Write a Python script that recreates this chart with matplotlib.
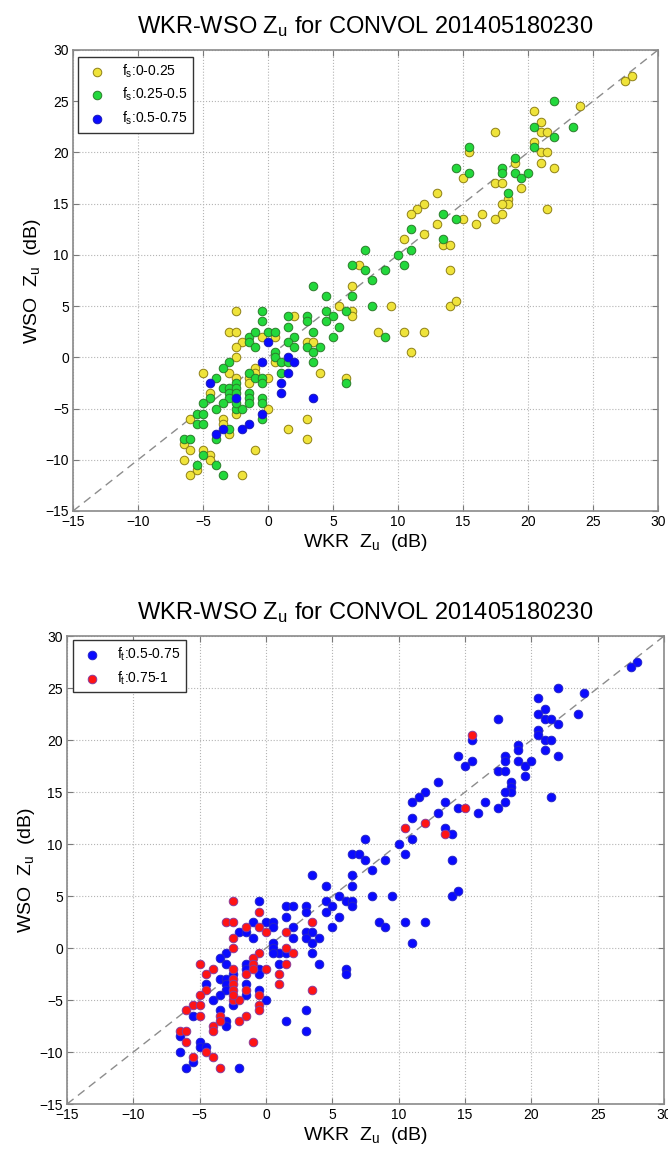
import matplotlib
matplotlib.use('Agg')
import matplotlib.pyplot as plt
import numpy as np

plt.rcParams['font.family'] = ['Liberation Sans', 'DejaVu Sans']
plt.rcParams['mathtext.fontset'] = 'custom'
plt.rcParams['mathtext.rm'] = 'Liberation Sans'
plt.rcParams['mathtext.it'] = 'Liberation Sans:italic'

# WKR / WSO reflectivity pairs (dB)
wkr = [28.0, 27.5, 24.0, 22.0, 20.5, 21.0, 20.5, 21.0, 21.5, 22.0,
       23.5, 20.5, 20.5, 21.0, 21.5, 21.0, 22.0, 21.5, 17.5, 15.5,
       15.5, 14.5, 15.5, 15.0, 19.0, 19.0, 18.0, 18.0, 19.0, 19.5,
       20.0, 19.5, 17.5, 18.0, 18.5, 18.5, 18.5, 18.0, 18.0, 17.5,
       16.5, 16.0, 13.0, 12.0, 11.5, 11.0, 13.5, 14.5, 15.0, 13.0,
       12.0, 11.0, 10.5, 11.0, 10.0, 10.5, 13.5, 13.5, 14.0, 14.0,
       7.5, 6.5, 7.0, 7.5, 9.0, 8.0, 6.5, 3.5, 4.5, 6.5,
       5.5, 8.0, 9.5, 14.0, 14.5, 4.5, 5.0, 6.0, 6.5, 6.5,
       4.5, 5.5, 5.0, 8.5, 9.0, 10.5, 12.0, 11.0, 6.0, 6.0,
       3.0, 3.0, 3.5, 3.0, 3.5, 3.0, 4.0, 3.5, 3.5, 4.0,
       3.5, 3.0, 3.0, 1.5, 1.5, 2.0, 1.5, 2.0, 1.5, 2.0,
       -0.5, -2.5, -0.5, -3.0, -2.5, -1.5, -1.0, -0.5, 0.0, 0.5,
       0.5, -2.0, -1.5, -2.5, -1.0, 0.0, 0.5, 0.5, 1.0, 0.5,
       1.5, 2.0, 1.5, 1.5, 1.0, 1.0, 0.0, -0.5, -1.0, -1.5,
       -1.0, -1.0, -1.5, -0.5, -0.5, -1.5, -2.5, -3.0, -3.5, -3.0,
       -2.5, -4.0, -5.0, -4.5, -3.5, -3.0, -2.5, -2.5, -4.5, -4.5,
       -3.0, -2.5, -1.5, -1.5, -1.5, -2.5, -3.0, -3.5, -4.0, -5.0,
       -5.5, -5.0, -5.5, -5.0, -6.0, -2.5, -2.0, -2.5, -3.5, -3.5,
       -3.0, -3.0, -3.5, -4.0, -4.0, -2.0, -1.5, -0.5, -0.5, -0.5,
       -0.5, 0.0, -1.0, -6.5, -6.0, -6.5, -6.0, -5.0, -5.0, -4.5,
       -4.5, -6.5, -4.0, -5.5, -5.5, -6.0, -3.5, -2.0, 1.0, -2.5]

wso = [27.5, 27.0, 24.5, 25.0, 24.0, 23.0, 22.5, 22.0, 22.0, 21.5,
       22.5, 21.0, 20.5, 20.0, 20.0, 19.0, 18.5, 14.5, 22.0, 20.5,
       20.0, 18.5, 18.0, 17.5, 19.5, 19.0, 18.5, 18.0, 18.0, 17.5,
       18.0, 16.5, 17.0, 17.0, 16.0, 15.5, 15.0, 15.0, 14.0, 13.5,
       14.0, 13.0, 16.0, 15.0, 14.5, 14.0, 14.0, 13.5, 13.5, 13.0,
       12.0, 12.5, 11.5, 10.5, 10.0, 9.0, 11.5, 11.0, 11.0, 8.5,
       10.5, 9.0, 9.0, 8.5, 8.5, 7.5, 7.0, 7.0, 6.0, 6.0,
       5.0, 5.0, 5.0, 5.0, 5.5, 4.5, 4.0, 4.5, 4.5, 4.0,
       3.5, 3.0, 2.0, 2.5, 2.0, 2.5, 2.5, 0.5, -2.0, -2.5,
       4.0, 3.5, 2.5, 1.5, 1.5, 1.0, 1.0, 0.5, -0.5, -1.5,
       -4.0, -6.0, -8.0, -7.0, 4.0, 4.0, 3.0, 2.0, 1.5, 1.0,
       4.5, 4.5, 3.5, 2.5, 2.5, 2.0, 2.5, 2.0, 2.5, 2.5,
       2.0, 1.5, 1.5, 1.0, 1.0, 1.5, 0.5, 0.0, -0.5, -0.5,
       0.0, -0.5, -0.5, -1.5, -2.5, -3.5, -2.0, -0.5, -1.0, -1.5,
       -1.5, -2.0, -2.0, -2.0, -2.5, -2.5, 0.0, -0.5, -1.0, -1.5,
       -2.0, -2.0, -1.5, -2.5, -3.0, -3.0, -2.5, -3.0, -3.5, -4.0,
       -3.5, -3.5, -3.5, -4.0, -4.5, -4.0, -4.0, -4.5, -5.0, -4.5,
       -5.5, -5.5, -6.5, -6.5, -6.0, -5.0, -5.0, -5.5, -6.0, -6.5,
       -7.0, -7.5, -7.0, -7.5, -8.0, -7.0, -6.5, -5.5, -4.0, -4.5,
       -6.0, -5.0, -9.0, -8.0, -8.0, -8.5, -9.0, -9.0, -9.5, -9.5,
       -10.0, -10.0, -10.5, -10.5, -11.0, -11.5, -11.5, -11.5, -1.5, -4.5]

# f_s class: 0 -> 0-0.25, 1 -> 0.25-0.5, 2 -> 0.5-0.75
fs_class = [0, 0, 0, 1, 0, 0, 1, 0, 0, 1,
            1, 0, 1, 0, 0, 0, 0, 0, 0, 1,
            0, 1, 1, 0, 1, 0, 1, 1, 1, 1,
            1, 0, 0, 0, 1, 0, 0, 0, 0, 0,
            0, 0, 0, 0, 0, 0, 1, 1, 0, 0,
            0, 1, 0, 1, 1, 1, 1, 0, 0, 0,
            1, 1, 0, 1, 1, 1, 0, 1, 1, 1,
            0, 1, 0, 0, 0, 1, 1, 1, 0, 0,
            1, 1, 1, 0, 1, 0, 0, 0, 0, 1,
            1, 1, 1, 0, 0, 1, 1, 1, 1, 0,
            2, 0, 0, 0, 1, 0, 1, 1, 1, 1,
            1, 0, 1, 0, 0, 1, 1, 0, 1, 1,
            0, 0, 1, 0, 1, 2, 1, 1, 1, 0,
            2, 2, 1, 2, 2, 2, 0, 2, 0, 1,
            0, 1, 0, 1, 1, 0, 0, 1, 1, 0,
            0, 1, 0, 2, 1, 1, 1, 1, 0, 1,
            1, 1, 1, 1, 1, 2, 1, 1, 1, 1,
            1, 1, 1, 1, 0, 1, 1, 0, 0, 0,
            1, 0, 2, 2, 1, 2, 2, 2, 1, 1,
            1, 0, 0, 1, 1, 0, 0, 0, 1, 0,
            0, 0, 1, 1, 0, 0, 1, 0, 1, 1]

# f_t class: 0 -> 0.5-0.75, 1 -> 0.75-1
ft_class = [0, 0, 0, 0, 0, 0, 0, 0, 0, 0,
            0, 0, 0, 0, 0, 0, 0, 0, 0, 1,
            0, 0, 0, 0, 0, 0, 0, 0, 0, 0,
            0, 0, 0, 0, 0, 0, 0, 0, 0, 0,
            0, 0, 0, 0, 0, 0, 0, 0, 1, 0,
            1, 0, 1, 0, 0, 0, 0, 1, 0, 0,
            0, 0, 0, 0, 0, 0, 0, 0, 0, 0,
            0, 0, 0, 0, 0, 0, 0, 0, 0, 0,
            0, 0, 0, 0, 0, 0, 0, 0, 0, 0,
            0, 0, 1, 0, 0, 0, 0, 0, 0, 0,
            1, 0, 0, 0, 0, 0, 0, 0, 1, 0,
            0, 1, 1, 1, 1, 1, 0, 1, 0, 0,
            0, 0, 0, 1, 0, 1, 0, 0, 0, 0,
            1, 1, 0, 1, 1, 1, 1, 1, 1, 0,
            1, 1, 0, 0, 0, 1, 1, 0, 0, 0,
            1, 1, 1, 1, 0, 0, 0, 1, 0, 1,
            0, 1, 0, 1, 0, 1, 0, 0, 0, 1,
            1, 1, 0, 1, 1, 1, 1, 0, 0, 1,
            0, 0, 1, 1, 1, 1, 1, 1, 0, 1,
            1, 0, 1, 1, 1, 0, 1, 0, 0, 0,
            1, 0, 1, 1, 0, 0, 1, 0, 0, 1]

fs_labels = ['$\\mathregular{f_s}$:0-0.25', '$\\mathregular{f_s}$:0.25-0.5', '$\\mathregular{f_s}$:0.5-0.75']
fs_face = ['#efe33a', '#22d83c', '#0a0aff']
fs_edge = ['#8f8016', '#2b7d2b', '#1a1ab8']
ft_labels = ['$\\mathregular{f_t}$:0.5-0.75', '$\\mathregular{f_t}$:0.75-1']
ft_face = ['#0a0aff', '#ff1414']
ft_edge = ['#2525c8', '#8a3a9a']

title = 'WKR-WSO $\\mathregular{Z_u}$ for CONVOL 201405180230'
ticks = np.arange(-15, 31, 5)

x = np.array(wkr)
y = np.array(wso)
fs = np.array(fs_class)
ft = np.array(ft_class)

fig = plt.figure(figsize=(6.68, 11.54), dpi=100)


def style_axes(ax):
    ax.set_xlim(-15, 30)
    ax.set_ylim(-15, 30)
    ax.set_xticks(ticks)
    ax.set_yticks(ticks)
    ax.plot([-15, 30], [-15, 30], color='#8c8c8c', linestyle=(0, (6, 4)), linewidth=1, zorder=1)
    ax.grid(True, linestyle=':', color='#b4b4b4', linewidth=0.8)
    ax.set_axisbelow(True)
    ax.tick_params(direction='in', top=True, right=True, length=4, labelsize=10,
                   color='#7a7a7a', pad=3)
    for s in ax.spines.values():
        s.set_color('#8a8a8a')
        s.set_linewidth(1.2)
    ax.set_title(title, fontsize=17, pad=12)
    ax.set_xlabel('WKR  $\\mathregular{Z_u}$  (dB)', fontsize=14, labelpad=2)
    ax.set_ylabel('WSO  $\\mathregular{Z_u}$  (dB)', fontsize=14, labelpad=2)


# top panel: coloured by f_s
ax1 = fig.add_axes([0.1093, 0.5572, 0.8757, 0.3995])
style_axes(ax1)
for k in range(3):
    m = fs == k
    ax1.scatter(x[m], y[m], s=38, c=fs_face[k], edgecolors=fs_edge[k], linewidths=0.7,
                label=fs_labels[k], zorder=3 + k)
ax1.legend(loc='upper left', bbox_to_anchor=(0.0085, 0.985), borderaxespad=0,
           fontsize=10, fancybox=False, edgecolor='#333333', framealpha=1,
           handletextpad=0.8, labelspacing=0.45, borderpad=0.4, scatterpoints=1)

# bottom panel: coloured by f_t
ax2 = fig.add_axes([0.1003, 0.0433, 0.8937, 0.4055])
style_axes(ax2)
for k in range(2):
    m = ft == k
    ax2.scatter(x[m], y[m], s=38, c=ft_face[k], edgecolors=ft_edge[k], linewidths=0.7,
                label=ft_labels[k], zorder=3 + k)
ax2.legend(loc='upper left', bbox_to_anchor=(0.010, 0.991), borderaxespad=0,
           fontsize=10, fancybox=False, edgecolor='#333333', framealpha=1,
           handletextpad=0.8, labelspacing=0.45, borderpad=0.4, scatterpoints=1)

fig.savefig('out.png', dpi=100)
